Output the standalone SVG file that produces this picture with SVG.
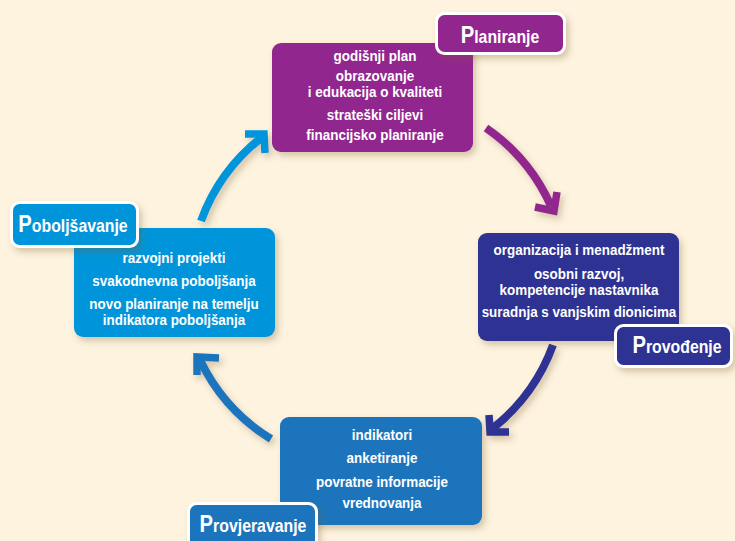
<svg xmlns="http://www.w3.org/2000/svg" width="735" height="541" viewBox="0 0 735 541">
<style>
.box{filter:url(#sh)}
.lbl{stroke:#fff;stroke-width:3;filter:url(#sh)}
.t{font-family:"Liberation Sans",Arial,sans-serif;font-weight:bold;font-size:14.6px;fill:#fff;text-anchor:middle}
.h{font-family:"Liberation Sans",Arial,sans-serif;font-weight:bold;font-size:18px;fill:#fff;text-anchor:middle}
.big{font-size:23px}
.shaft{fill:none;stroke-width:8;stroke-linecap:butt}
.head{fill:none;stroke-width:7.5;stroke-linecap:butt;stroke-linejoin:miter}
</style>
<defs>
<filter id="sh" x="-20%" y="-20%" width="140%" height="150%">
<feDropShadow dx="3" dy="4" stdDeviation="3" flood-color="#7a5a2a" flood-opacity="0.3"/>
</filter>
</defs>
<rect width="735" height="541" fill="#FDF3DF"/>

<g id="connectors" filter="url(#sh)">
<g stroke="#92278F">
<path class="shaft" d="M486,128 A188,188 0 0 1 551,206"/>
<path class="head" d="M535,207 L554,211 L557,192"/>
</g>
<g stroke="#2E3192">
<path class="shaft" d="M553,345 A188,188 0 0 1 493,428"/>
<path class="head" d="M489,415 L490,432 L509,432"/>
</g>
<g stroke="#1C75BC">
<path class="shaft" d="M271,439 A188,188 0 0 1 200,360"/>
<path class="head" d="M197,375 L197,357 L219,358"/>
</g>
<g stroke="#0095DA">
<path class="shaft" d="M201,221 A188,188 0 0 1 261,138"/>
<path class="head" d="M245,134 L264,134 L265,153"/>
</g>
</g>

<g id="planiranje">
<rect class="box" x="272" y="43" width="201" height="109" rx="9" fill="#92278F"/>
<g transform="matrix(0.92 0 0 1 30 0)">
<text class="t" x="375" y="61">godišnji plan</text>
<text class="t" x="375" y="81">obrazovanje</text>
<text class="t" x="375" y="97">i edukacija o kvaliteti</text>
<text class="t" x="375" y="120">strateški ciljevi</text>
<text class="t" x="375" y="140">financijsko planiranje</text>
</g>
<rect class="lbl" x="436.5" y="13.5" width="128" height="40" rx="8" fill="#92278F"/>
<text class="h" x="500" y="43" transform="matrix(0.88 0 0 1 60 0)"><tspan class="big">P</tspan>laniranje</text>
</g>

<g id="provodenje">
<rect class="box" x="478" y="233" width="201" height="108" rx="9" fill="#2E3192"/>
<g transform="matrix(0.92 0 0 1 46.32 0)">
<text class="t" x="579" y="255">organizacija i menadžment</text>
<text class="t" x="579" y="279">osobni razvoj,</text>
<text class="t" x="579" y="295">kompetencije nastavnika</text>
<text class="t" x="579" y="317">suradnja s vanjskim dionicima</text>
</g>
<rect class="lbl" x="615.5" y="325.5" width="116" height="41" rx="8" fill="#2E3192"/>
<text class="h" x="677" y="353" transform="matrix(0.88 0 0 1 81.24 0)"><tspan class="big">P</tspan>rovođenje</text>
</g>

<g id="provjeravanje">
<rect class="box" x="280" y="417" width="202" height="108" rx="9" fill="#1C75BC"/>
<g transform="matrix(0.92 0 0 1 30.56 0)">
<text class="t" x="382" y="440">indikatori</text>
<text class="t" x="382" y="463">anketiranje</text>
<text class="t" x="382" y="487">povratne informacije</text>
<text class="t" x="382" y="508">vrednovanja</text>
</g>
<rect class="lbl" x="188.5" y="503.5" width="128" height="50" rx="8" fill="#1C75BC"/>
<text class="h" x="253" y="532" transform="matrix(0.88 0 0 1 30.36 0)"><tspan class="big">P</tspan>rovjeravanje</text>
</g>

<g id="poboljsavanje">
<rect class="box" x="74" y="228" width="201" height="109" rx="9" fill="#0095DA"/>
<g transform="matrix(0.92 0 0 1 13.92 0)">
<text class="t" x="174" y="263">razvojni projekti</text>
<text class="t" x="174" y="286">svakodnevna poboljšanja</text>
<text class="t" x="174" y="309">novo planiranje na temelju</text>
<text class="t" x="174" y="325">indikatora poboljšanja</text>
</g>
<rect class="lbl" x="11.5" y="202.5" width="126" height="44" rx="8" fill="#0095DA"/>
<text class="h" x="73" y="232" transform="matrix(0.88 0 0 1 8.76 0)"><tspan class="big">P</tspan>oboljšavanje</text>
</g>
</svg>
